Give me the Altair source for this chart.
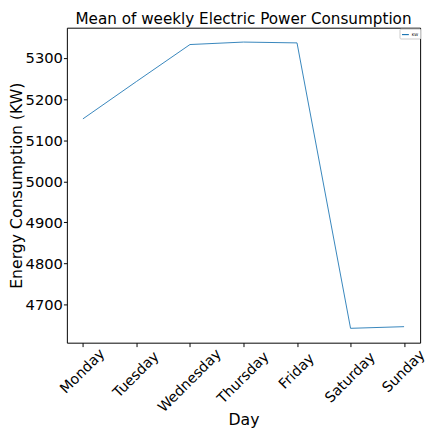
import altair as alt
import pandas as pd

days = ["Monday", "Tuesday", "Wednesday", "Thursday", "Friday", "Saturday", "Sunday"]
consumption = [5152, 5243, 5333, 5339, 5337, 4642, 4646]
y_ticks = [4700, 4800, 4900, 5000, 5100, 5200, 5300]
series_name = ["KW"] * len(days)

df = pd.DataFrame({"day": days, "kw": consumption, "series": series_name})
lab = pd.DataFrame({"day": days})

FONT = "DejaVu Sans"
W, H = 360, 321

xscale = alt.Scale(type="point", domain=days, padding=0.3)
xaxis = alt.Axis(labels=False, title="Day", titleFontSize=16, titleFont=FONT,
                 titleFontWeight="normal", titleColor="black", titlePadding=66,
                 tickSize=4, tickColor="black", domain=False, grid=False)

line = alt.Chart(df).mark_line(strokeWidth=0.9).encode(
    x=alt.X("day:N", scale=xscale, sort=days, axis=xaxis),
    y=alt.Y("kw:Q", scale=alt.Scale(domain=[4607, 5374], nice=False, zero=False),
            axis=alt.Axis(values=y_ticks, format="d", title="Energy Consumption (KW)",
                          titleFontSize=16, titleFont=FONT, titleFontWeight="normal",
                          titleColor="black", titlePadding=1, labelFont=FONT, labelFontSize=15,
                          labelColor="black", labelPadding=1, tickSize=3.5, tickColor="black",
                          domain=False, grid=False)),
    color=alt.Color("series:N", scale=alt.Scale(range=["#1f77b4"]),
                    legend=alt.Legend(title=None, orient="none", legendX=339, legendY=1,
                                      symbolType="stroke", symbolSize=49, symbolStrokeWidth=1.2,
                                      labelFontSize=4, labelFont=FONT, labelOffset=2,
                                      padding=1.5, strokeColor="#cccccc", fillColor="white",
                                      cornerRadius=1, rowPadding=0)),
)

labels = alt.Chart(lab).transform_calculate(
    ly=f"{H} + 5 + (length(datum.day) * 9.1 + 15) * 0.3536"
).mark_text(angle=315, align="center", baseline="middle", font=FONT, fontSize=14.5,
            color="black").encode(
    x=alt.X("day:N", scale=xscale, sort=days, axis=xaxis),
    y=alt.Y("ly:Q", scale=None, axis=None),
    text="day:N",
)

chart = alt.layer(line, labels).resolve_scale(y="independent").properties(
    width=W, height=H,
    autosize=alt.AutoSizeParams(type="none"),
    padding={"left": 60, "top": 16, "right": 7, "bottom": 90},
    title=alt.TitleParams("Mean of weekly Electric Power Consumption", font=FONT, fontSize=15.5,
                          fontWeight="normal", color="black", anchor="middle", offset=0.5),
).configure_view(stroke="black", strokeWidth=1)

chart.save("out.html", embed_options={"renderer": "svg", "actions": False})
